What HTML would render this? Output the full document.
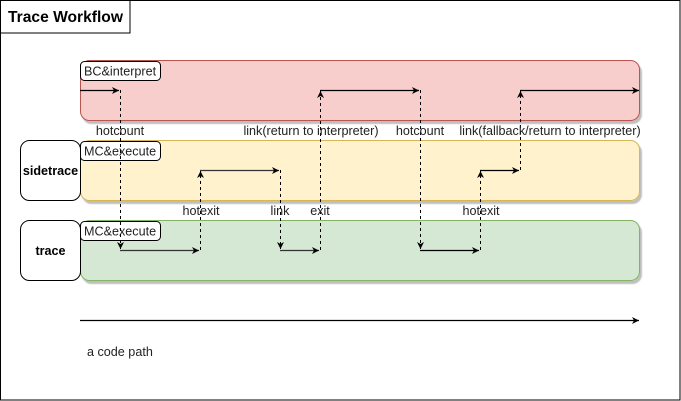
<!DOCTYPE html>
<html><head><style>body{margin:0;background:#fff}svg{display:block}text{font-family:"Liberation Sans",sans-serif;font-size:12.6px;fill:#222}</style></head>
<body>
<svg width="681" height="401" viewBox="0 0 681 401" xmlns="http://www.w3.org/2000/svg">
<defs>
<marker id="a" markerWidth="8" markerHeight="8" refX="7" refY="4" orient="auto" markerUnits="userSpaceOnUse"><path d="M0,0.5 L7,4 L0,7.5 L2,4 Z" fill="#000"/></marker>
<filter id="s"><feDropShadow dx="2" dy="3" stdDeviation="0.5" flood-color="#000" flood-opacity="0.25"/></filter>
</defs>
<rect x="0.5" y="0.5" width="679.5" height="399.5" fill="#fff" stroke="#000"/>
<rect x="0.5" y="0.5" width="129.5" height="32.5" fill="#fff" stroke="#000"/>
<text x="8" y="22" style="font-size:15.6px;font-weight:bold;fill:#000">Trace Workflow</text>

<rect x="80.5" y="60.5" width="559" height="60" rx="9" fill="#f8cecc" stroke="#b85450" filter="url(#s)"/>
<rect x="80.5" y="140.5" width="559" height="60" rx="9" fill="#fff2cc" stroke="#d6b656" filter="url(#s)"/>
<rect x="80.5" y="220.5" width="559" height="60" rx="9" fill="#d5e8d4" stroke="#82b366" filter="url(#s)"/>

<rect x="20.5" y="140.5" width="60" height="60" rx="9" fill="#fff" stroke="#000"/>
<text x="50.5" y="175" text-anchor="middle" style="font-weight:bold;fill:#000">sidetrace</text>
<rect x="20.5" y="220.5" width="60" height="60" rx="9" fill="#fff" stroke="#000"/>
<text x="50.5" y="255" text-anchor="middle" style="font-weight:bold;fill:#000">trace</text>

<rect x="80.5" y="61.5" width="80" height="19" rx="4" fill="#fff" stroke="#000"/>
<text x="84" y="75.5">BC&amp;interpret</text>
<rect x="80.5" y="141.5" width="80" height="19" rx="4" fill="#fff" stroke="#000"/>
<text x="84" y="155.5">MC&amp;execute</text>
<rect x="80.5" y="221.5" width="80" height="19" rx="4" fill="#fff" stroke="#000"/>
<text x="84" y="235.5">MC&amp;execute</text>

<g stroke="#000" stroke-width="1.3" fill="none">
<line x1="80" y1="90.5" x2="119" y2="90.5" marker-end="url(#a)"/>
<line x1="320" y1="90.5" x2="419" y2="90.5" marker-end="url(#a)"/>
<line x1="520" y1="90.5" x2="639" y2="90.5" marker-end="url(#a)"/>
<line x1="120" y1="250.5" x2="199" y2="250.5" marker-end="url(#a)" stroke="#333"/>
<line x1="200" y1="170.5" x2="279" y2="170.5" marker-end="url(#a)" stroke="#333"/>
<line x1="280" y1="250.5" x2="319" y2="250.5" marker-end="url(#a)" stroke="#333"/>
<line x1="420" y1="250.5" x2="479" y2="250.5" marker-end="url(#a)"/>
<line x1="480" y1="170.5" x2="519" y2="170.5" marker-end="url(#a)"/>
<line x1="80" y1="320.5" x2="639" y2="320.5" marker-end="url(#a)"/>
</g>
<g stroke="#000" stroke-width="1" stroke-dasharray="3,3" fill="none">
<line x1="120.5" y1="90" x2="120.5" y2="249" marker-end="url(#a)"/>
<line x1="200.5" y1="250" x2="200.5" y2="171" marker-end="url(#a)"/>
<line x1="280.5" y1="170" x2="280.5" y2="249" marker-end="url(#a)"/>
<line x1="320.5" y1="250" x2="320.5" y2="91" marker-end="url(#a)"/>
<line x1="420.5" y1="90" x2="420.5" y2="249" marker-end="url(#a)"/>
<line x1="480.5" y1="250" x2="480.5" y2="171" marker-end="url(#a)"/>
<line x1="520.5" y1="170" x2="520.5" y2="91" marker-end="url(#a)"/>
</g>

<text x="120" y="135" text-anchor="middle">hotcount</text>
<text x="311" y="135" text-anchor="middle">link(return to interpreter)</text>
<text x="420" y="135" text-anchor="middle">hotcount</text>
<text x="550" y="135" text-anchor="middle">link(fallback/return to interpreter)</text>
<text x="201" y="215" text-anchor="middle">hotexit</text>
<text x="280" y="215" text-anchor="middle">link</text>
<text x="320" y="215" text-anchor="middle">exit</text>
<text x="481" y="215" text-anchor="middle">hotexit</text>
<text x="87" y="356">a code path</text>
</svg>
</body></html>
